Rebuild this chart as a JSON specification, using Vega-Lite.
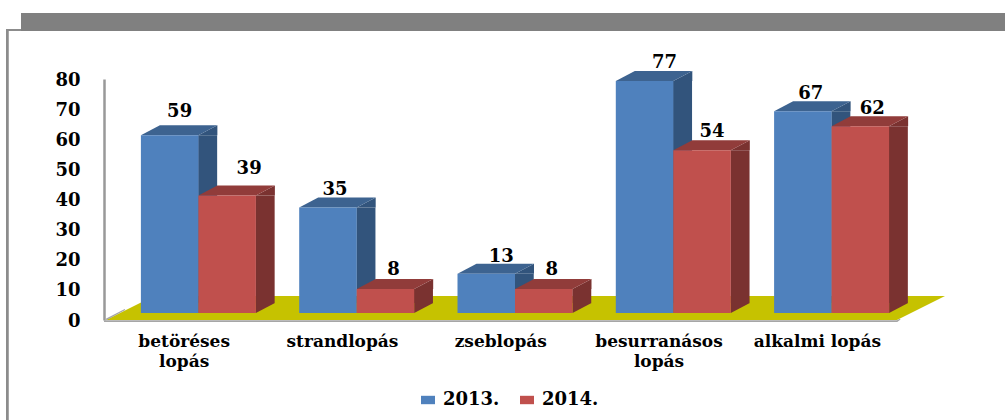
{
"$schema":"https://vega.github.io/schema/vega-lite/v6.json",
"autosize":{"type":"none"},
"padding":{"left":104,"top":79,"right":107,"bottom":100},
"width":794,"height":241,
"background":"white",
"config":{"view":{"stroke":null}},
"data":{"values":[
{"category":"betöréses lopás","year":"2013.","value":59},
{"category":"betöréses lopás","year":"2014.","value":39},
{"category":"strandlopás","year":"2013.","value":35},
{"category":"strandlopás","year":"2014.","value":8},
{"category":"zseblopás","year":"2013.","value":13},
{"category":"zseblopás","year":"2014.","value":8},
{"category":"besurranásos lopás","year":"2013.","value":77},
{"category":"besurranásos lopás","year":"2014.","value":54},
{"category":"alkalmi lopás","year":"2013.","value":67},
{"category":"alkalmi lopás","year":"2014.","value":62}
]},
"encoding":{
"x":{"field":"category","type":"nominal","title":null,"sort":null,
"scale":{"domain":["betöréses lopás","strandlopás","zseblopás","besurranásos lopás","alkalmi lopás"],"range":[2,793.5],"paddingInner":0,"paddingOuter":0},
"axis":{"domain":false,"ticks":false,"labelAngle":0,"labelFont":"DejaVu Serif","labelFontWeight":"bold","labelFontSize":17,"labelColor":"black","labelPadding":13,"labelLimit":300,"labelLineHeight":20,"labelBaseline":"top","labelOffset":-1,
"labelExpr":"datum.label==='betöréses lopás'?['betöréses','lopás']:datum.label==='besurranásos lopás'?['besurranásos','lopás']:datum.label"}},
"y":{"field":"value","type":"quantitative","title":null,
"scale":{"domain":[0,80],"nice":false},
"axis":{"grid":false,"ticks":false,"domain":true,"domainColor":"#999999","domainWidth":2.5,"values":[0,10,20,30,40,50,60,70,80],"labelFont":"DejaVu Serif","labelFontWeight":"bold","labelFontSize":18,"labelColor":"black","labelPadding":24,"labelOffset":1}}
},
"layer":[
{"data":{"values":[{"category":"zseblopás","value":0}]},
 "mark":{"type":"point","filled":true,"size":4,"opacity":1,"fill":"#808080","shape":"M-480.75 -307H503.25V-289H-480.75Z"},"encoding":{}},
{"data":{"values":[{"category":"zseblopás","value":0}]},
 "mark":{"type":"point","filled":true,"size":4,"opacity":1,"fill":"#8C8C8C","shape":"M-495.75 -291H-480.75V-289H-493V100H-495.75Z"},"encoding":{}},
{"data":{"values":[{"category":"zseblopás","value":0}]},
 "mark":{"type":"point","filled":true,"size":4,"opacity":1,"fill":"#C6C200","shape":"M-395.75 0L-347.75 -24H443.25L395.25 0Z"},"encoding":{}},
{"data":{"values":[{"category":"zseblopás","value":0}]},
 "mark":{"type":"point","filled":true,"size":4,"opacity":1,"fill":"#A6A6A6","shape":"M-397.75 0.3H395.25L398 -1.2L398.8 -0.5L395.5 2H-397.75ZM-396.5 -1L-377 -11L-376.5 -10L-395 0Z"},"encoding":{}},
{"mark":{"type":"bar","width":19,"xOffset":{"expr":"datum.year==='2013.'?22.5:80"},"yOffset":-7,"y2Offset":-17},
 "encoding":{"y2":{"datum":0},
 "color":{"condition":{"test":"datum.year==='2013.'","value":"#32547C"},"value":"#7A3230"}}},
{"mark":{"type":"point","filled":true,"size":4,"opacity":1,"shape":"M28.75 0L47.75 -10V0Z","xOffset":{"expr":"datum.year==='2013.'?-15.5:42"},"yOffset":-7},
 "encoding":{"color":{"condition":{"test":"datum.year==='2013.'","value":"#32547C"},"value":"#7A3230"}}},
{"mark":{"type":"point","filled":true,"size":4,"opacity":1,"shape":"M28.75 0L47.75 -10H28.75Z","xOffset":{"expr":"datum.year==='2013.'?-15.5:42"},"yOffset":-7},
 "encoding":{"y":{"datum":0},"color":{"condition":{"test":"datum.year==='2013.'","value":"#32547C"},"value":"#7A3230"}}},
{"mark":{"type":"point","filled":true,"size":4,"opacity":1,"shape":"M-28.75 0L-9.75 -10H47.75L28.75 0Z","xOffset":{"expr":"datum.year==='2013.'?-15.5:42"},"yOffset":-7},
 "encoding":{"color":{"condition":{"test":"datum.year==='2013.'","value":"#3D6390"},"value":"#913C3A"}}},
{"mark":{"type":"bar","width":57.5,"xOffset":{"expr":"datum.year==='2013.'?-15.5:42"},"yOffset":-7,"y2Offset":-7},
 "encoding":{"y2":{"datum":0},
 "color":{"field":"year","type":"nominal","scale":{"domain":["2013.","2014."],"range":["#4F81BD","#C0504D"]},
 "legend":{"orient":"none","legendX":315,"legendY":312,"direction":"horizontal","columns":2,"title":null,"symbolType":"M-1 -0.6H1V0.6H-1Z","symbolSize":196,"symbolStrokeWidth":0,"labelFont":"DejaVu Serif","labelFontWeight":"bold","labelFontSize":18,"labelColor":"black","columnPadding":18,"labelOffset":6}}}},
{"mark":{"type":"text","font":"DejaVu Serif","fontWeight":"bold","fontSize":18,"color":"black","baseline":"middle","align":"center",
 "xOffset":{"expr":"(datum.year==='2013.'?-3.5:54)+({'59':-2,'39':10,'35':-5,'8':-4,'13':3,'77':8,'54':-2,'67':-4,'62':0}[datum.value]||0)"},
 "yOffset":{"expr":"-27+({'59':-3,'39':-7,'35':2,'8':1,'13':3,'77':2,'54':2,'67':3,'62':3}[datum.value]||0)"}},
 "encoding":{"text":{"field":"value","type":"quantitative"}}}
]
}
